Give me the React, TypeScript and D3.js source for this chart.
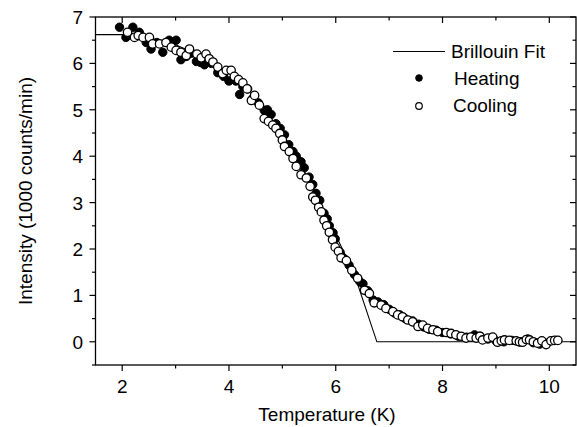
import React from "react";
import { scaleLinear, line, range } from "d3";

// Heating (filled) points: [T, I]
const heatingT = [1.95, 2.07, 2.2, 2.32, 2.45, 2.54, 2.65, 2.76, 2.88, 3.01, 3.1, 3.2, 3.3, 3.39, 3.47, 3.54, 3.62, 3.67, 3.79, 3.9, 4.0, 4.13, 4.2, 4.26, 4.35, 4.45, 4.55, 4.66, 4.72, 4.79, 4.88, 4.96, 5.04, 5.12, 5.2, 5.26, 5.35, 5.41, 5.5, 5.57, 5.63, 5.7, 5.78, 5.84, 5.88, 5.95, 5.99, 6.08, 6.15, 6.25, 6.35, 6.45, 6.51, 6.6, 6.7, 6.79, 6.9, 7.0, 7.1, 7.2, 7.3, 7.44, 7.55, 7.65, 7.75, 7.88, 8.0, 8.15, 8.3, 8.45, 8.6, 8.7, 8.85, 9.0, 9.15, 9.3, 9.45, 9.6, 9.7, 9.82, 9.95];
const heatingI = [6.78, 6.56, 6.78, 6.67, 6.45, 6.31, 6.45, 6.24, 6.5, 6.5, 6.08, 6.15, 6.22, 6.04, 6.02, 5.97, 6.05, 6.0, 5.8, 5.72, 5.62, 5.62, 5.33, 5.5, 5.45, 5.25, 5.15, 4.99, 5.0, 4.9, 4.7, 4.6, 4.46, 4.25, 4.1, 4.0, 3.88, 3.75, 3.55, 3.39, 3.2, 3.05, 2.77, 2.65, 2.5, 2.35, 2.22, 1.93, 1.8, 1.65, 1.45, 1.3, 1.25, 1.1, 0.9, 0.86, 0.8, 0.7, 0.62, 0.58, 0.5, 0.45, 0.38, 0.32, 0.27, 0.25, 0.2, 0.17, 0.12, 0.1, 0.15, 0.12, 0.06, 0.02, 0.0, 0.03, 0.0, 0.06, -0.02, -0.05, -0.03];

// Cooling (open) points
const coolingT = [2.1, 2.23, 2.3, 2.39, 2.51, 2.57, 2.7, 2.82, 2.92, 3.01, 3.1, 3.2, 3.26, 3.4, 3.48, 3.57, 3.63, 3.7, 3.79, 3.88, 3.95, 4.04, 4.1, 4.18, 4.26, 4.34, 4.42, 4.48, 4.57, 4.66, 4.74, 4.82, 4.88, 4.95, 5.0, 5.04, 5.13, 5.2, 5.26, 5.35, 5.45, 5.52, 5.57, 5.62, 5.68, 5.73, 5.78, 5.83, 5.88, 5.94, 5.99, 6.05, 6.1, 6.2, 6.3, 6.41, 6.54, 6.63, 6.72, 6.85, 6.94, 7.07, 7.16, 7.25, 7.35, 7.44, 7.54, 7.63, 7.72, 7.82, 7.91, 8.07, 8.16, 8.25, 8.35, 8.44, 8.53, 8.63, 8.7, 8.75, 8.85, 8.94, 9.03, 9.1, 9.16, 9.25, 9.38, 9.44, 9.5, 9.57, 9.63, 9.7, 9.78, 9.86, 9.94, 10.03, 10.1, 10.16];
const coolingI = [6.67, 6.56, 6.6, 6.56, 6.56, 6.42, 6.42, 6.45, 6.35, 6.28, 6.24, 6.17, 6.31, 6.2, 6.12, 6.2, 6.1, 6.03, 5.92, 5.78, 5.85, 5.85, 5.72, 5.65, 5.58, 5.45, 5.2, 5.31, 5.1, 4.81, 4.75, 4.67, 4.6, 4.49, 4.35, 4.21, 4.1, 3.95, 3.78, 3.6, 3.53, 3.35, 3.12, 3.05, 2.9, 2.8, 2.62, 2.5, 2.36, 2.2, 2.04, 1.95, 1.81, 1.75, 1.54, 1.37, 1.11, 1.04, 0.84, 0.79, 0.72, 0.65, 0.58, 0.54, 0.47, 0.43, 0.33, 0.36, 0.29, 0.26, 0.22, 0.2, 0.18, 0.15, 0.12, 0.08, 0.1, 0.08, 0.12, 0.04, 0.08, 0.1, -0.01, 0.02, 0.04, 0.03, 0.02, 0.0, -0.01, 0.05, 0.04, 0.0, -0.03, 0.02, -0.06, 0.02, 0.03, 0.03];

// Brillouin fit curve
const fitT = [1.5, 2.0, 2.5, 3.0, 3.5, 4.0, 4.5, 5.0, 5.5, 6.0, 6.35, 6.77, 10.5];
const fitI = [6.62, 6.62, 6.55, 6.4, 6.15, 5.8, 5.25, 4.45, 3.5, 2.3, 1.45, 0, 0];

const xTicks = [2, 4, 6, 8, 10];
const yTicks = [0, 1, 2, 3, 4, 5, 6, 7];

const width = 577;
const height = 427;
const left = 95.5;
const right = 576;
const top = 17;
const bottom = 365;
const font = "Liberation Sans, Arial, sans-serif";

const App = () => {
  const x = scaleLinear().domain([1.5, 10.5]).range([left, right]);
  const y = scaleLinear().domain([-0.5, 7]).range([bottom, top]);

  const fitPath = line<number>()
    .x((d) => x(fitT[d]))
    .y((d) => y(fitI[d]))(fitT.map((_, i) => i));

  const xMinor = range(2, 11, 1);
  const yMinor = range(-0.5, 7.01, 0.5);

  return (
    <svg width={width} height={height} style={{ display: "block" }}>
      <style>{"body{margin:0}"}</style>
      <rect x={0} y={0} width={width} height={height} fill="#fff" />

      {/* fit line */}
      <path d={fitPath || ""} fill="none" stroke="#000" strokeWidth={1.1} />

      {/* heating */}
      {heatingT.map((t, i) => (
        <circle key={"h" + i} cx={x(t)} cy={y(heatingI[i])} r={4.2} fill="#000" stroke="#000" strokeWidth={1} />
      ))}
      {/* cooling */}
      {coolingT.map((t, i) => (
        <circle key={"c" + i} cx={x(t)} cy={y(coolingI[i])} r={4.2} fill="#fff" stroke="#000" strokeWidth={1.3} />
      ))}

      {/* frame */}
      <rect x={left} y={top} width={right - left} height={bottom - top} fill="none" stroke="#000" strokeWidth={1.3} />

      {/* x ticks: bottom outward, top inward */}
      {xMinor.map((v) => {
        const major = xTicks.includes(v);
        const len = major ? 6 : 3.5;
        return (
          <g key={"xt" + v}>
            <line x1={x(v)} x2={x(v)} y1={bottom} y2={bottom + len} stroke="#000" strokeWidth={1.2} />
            <line x1={x(v)} x2={x(v)} y1={top} y2={top + len} stroke="#000" strokeWidth={1.2} />
          </g>
        );
      })}
      {xTicks.map((v) => (
        <text key={"xl" + v} x={x(v)} y={393} textAnchor="middle" fontFamily={font} fontSize={19}>
          {v}
        </text>
      ))}

      {/* y ticks: left outward, right inward */}
      {yMinor.map((v) => {
        const major = Math.abs(v - Math.round(v)) < 1e-6;
        const len = major ? 6 : 3.5;
        return (
          <g key={"yt" + v}>
            <line x1={left - len} x2={left} y1={y(v)} y2={y(v)} stroke="#000" strokeWidth={1.2} />
            <line x1={right - len} x2={right} y1={y(v)} y2={y(v)} stroke="#000" strokeWidth={1.2} />
          </g>
        );
      })}
      {yTicks.map((v) => (
        <text key={"yl" + v} x={83} y={y(v) + 7} textAnchor="end" fontFamily={font} fontSize={19}>
          {v}
        </text>
      ))}

      {/* axis titles */}
      <text x={327} y={421} textAnchor="middle" fontFamily={font} fontSize={19}>
        Temperature (K)
      </text>
      <text
        transform={`translate(32,${(top + bottom) / 2}) rotate(-90)`}
        textAnchor="middle"
        fontFamily={font}
        fontSize={19}
      >
        Intensity (1000 counts/min)
      </text>

      {/* legend */}
      <line x1={393} x2={445} y1={51.5} y2={51.5} stroke="#000" strokeWidth={1.1} />
      <text x={451} y={58} fontFamily={font} fontSize={19}>Brillouin Fit</text>
      <circle cx={419} cy={78} r={3.3} fill="#000" stroke="#000" strokeWidth={1} />
      <text x={454} y={85} fontFamily={font} fontSize={19}>Heating</text>
      <circle cx={419} cy={106} r={3.3} fill="#fff" stroke="#000" strokeWidth={1.2} />
      <text x={453} y={112} fontFamily={font} fontSize={19}>Cooling</text>
    </svg>
  );
};

export default App;
